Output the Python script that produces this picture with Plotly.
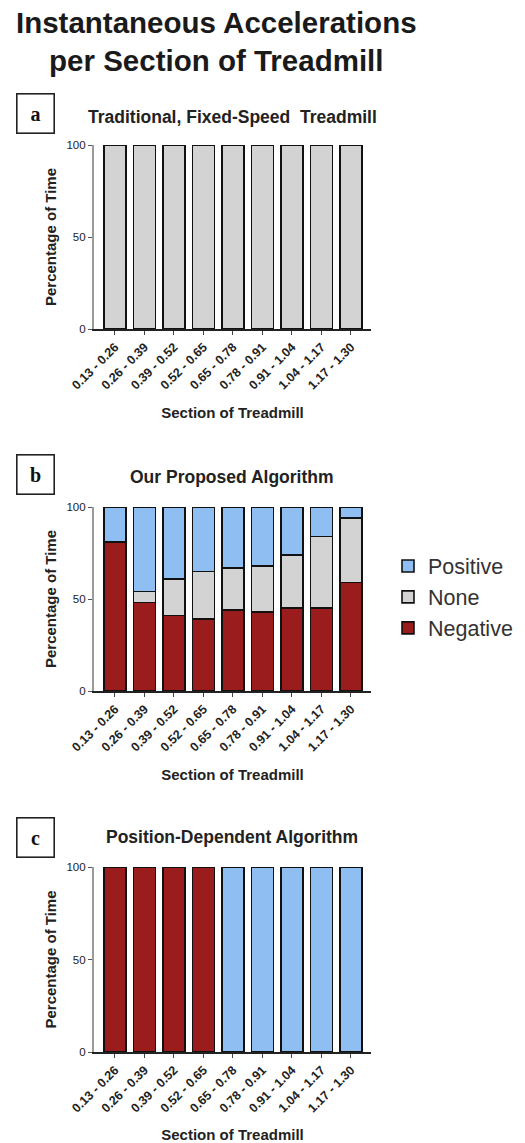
import plotly.graph_objects as go

sections = ["0.13 - 0.26", "0.26 - 0.39", "0.39 - 0.52", "0.52 - 0.65", "0.65 - 0.78",
            "0.78 - 0.91", "0.91 - 1.04", "1.04 - 1.17", "1.17 - 1.30"]

# Panel a: traditional fixed-speed treadmill
a_none = [100, 100, 100, 100, 100, 100, 100, 100, 100]

# Panel b: proposed algorithm
b_negative = [81, 48, 41, 39, 44, 43, 45, 45, 59]
b_none = [0, 6, 20, 26, 23, 25, 29, 39, 35]
b_positive = [19, 46, 39, 35, 33, 32, 26, 16, 6]

# Panel c: position-dependent algorithm
c_negative = [100, 100, 100, 100, None, None, None, None, None]
c_positive = [None, None, None, None, 100, 100, 100, 100, 100]

COL_POS = "#8fbff2"
COL_NONE = "#d3d3d3"
COL_NEG = "#9b1c1c"
FONT = "Liberation Sans, Arial, sans-serif"

W, H = 525, 1143

def px(y):
    return 1 - y / H

fig = go.Figure()
line = dict(color="#111111", width=1.6)

fig.add_trace(go.Bar(x=sections, y=a_none, marker=dict(color=COL_NONE, line=line),
                     xaxis="x", yaxis="y", showlegend=False, name="None"))

fig.add_trace(go.Bar(x=sections, y=b_negative, marker=dict(color=COL_NEG, line=line),
                     xaxis="x2", yaxis="y2", name="Negative", legendrank=3))
fig.add_trace(go.Bar(x=sections, y=b_none, marker=dict(color=COL_NONE, line=line),
                     xaxis="x2", yaxis="y2", name="None", legendrank=2))
fig.add_trace(go.Bar(x=sections, y=b_positive, marker=dict(color=COL_POS, line=line),
                     xaxis="x2", yaxis="y2", name="Positive", legendrank=1))

fig.add_trace(go.Bar(x=sections, y=c_negative, marker=dict(color=COL_NEG, line=line),
                     xaxis="x3", yaxis="y3", showlegend=False, name="Negative"))
fig.add_trace(go.Bar(x=sections, y=c_positive, marker=dict(color=COL_POS, line=line),
                     xaxis="x3", yaxis="y3", showlegend=False, name="Positive"))

xdom = [94 / W, 371 / W]
panels = [(145, 329), (507, 691), (867, 1052)]

def xaxis_def(anchor):
    return dict(domain=xdom, anchor=anchor, range=[-0.71, 8.68], showline=True,
                linecolor="#222222", linewidth=1.6, ticks="outside", ticklen=4,
                tickcolor="#444444", tickangle=-45, showgrid=False, automargin=False,
                tickfont=dict(family=FONT, size=12.5, color="#222222"),
                tickprefix="<b>", ticksuffix="</b>",
                title=dict(text="<b>Section of Treadmill</b>", standoff=16,
                           font=dict(family=FONT, size=15, color="#222222")))

def yaxis_def(anchor, top, bot):
    return dict(domain=[px(bot), px(top)], anchor=anchor, range=[0, 100],
                tickvals=[0, 50, 100], showline=True, linecolor="#9a9a9a", linewidth=2.2,
                ticks="outside", ticklen=4, tickcolor="#555555", showgrid=False,
                zeroline=False, automargin=False,
                tickfont=dict(family=FONT, size=11.5, color="#222222"),
                title=dict(text="<b>Percentage of Time</b>", standoff=6,
                           font=dict(family=FONT, size=15, color="#222222")))

fig.update_layout(
    xaxis=xaxis_def("y"), yaxis=yaxis_def("x", *panels[0]),
    xaxis2=xaxis_def("y2"), yaxis2=yaxis_def("x2", *panels[1]),
    xaxis3=xaxis_def("y3"), yaxis3=yaxis_def("x3", *panels[2]),
)

annotations = [
    dict(text="<b>Instantaneous Accelerations<br>per Section of Treadmill</b>",
         x=216 / W, y=px(4), xref="paper", yref="paper", xanchor="center", yanchor="top",
         showarrow=False, font=dict(family=FONT, size=29.5, color="#1a1a1a"), align="center"),
]
titles = ["Traditional, Fixed-Speed  Treadmill", "Our Proposed Algorithm", "Position-Dependent Algorithm"]
title_y = [117, 477, 837]
box_y = [114, 474, 837]
letters = ["a", "b", "c"]
for t, ty, by, lt in zip(titles, title_y, box_y, letters):
    annotations.append(dict(text="<b>" + t + "</b>", x=232 / W, y=px(ty), xref="paper", yref="paper",
                            xanchor="center", yanchor="middle", showarrow=False,
                            font=dict(family=FONT, size=17.5, color="#222222")))
    annotations.append(dict(text="<b>" + lt + "</b>", x=35.5 / W, y=px(by), xref="paper", yref="paper",
                            xanchor="center", yanchor="middle", showarrow=False,
                            width=36, height=38, bordercolor="#222222", borderwidth=1.6, borderpad=0,
                            font=dict(family="Liberation Serif, Times New Roman, serif", size=20,
                                      color="#111111")))

fig.update_layout(
    width=W, height=H, margin=dict(l=0, r=0, t=0, b=0),
    paper_bgcolor="white", plot_bgcolor="white",
    barmode="stack", bargap=0.26,
    annotations=annotations,
    legend=dict(x=388 / W, y=px(597), xanchor="left", yanchor="middle",
                traceorder="normal",
                font=dict(family=FONT, size=21.5, color="#333333"),
                itemwidth=30, tracegroupgap=0, bgcolor="rgba(0,0,0,0)"),
    showlegend=True,
)

fig.write_html("out.html", config={"displayModeBar": False},
               post_script="document.body.style.margin='0';")
